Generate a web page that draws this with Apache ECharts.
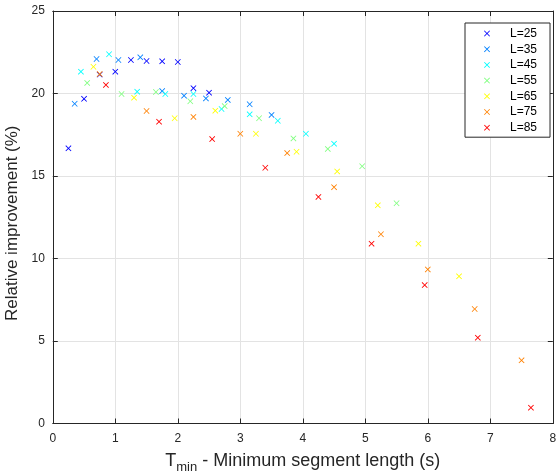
<!DOCTYPE html>
<html>
<head>
<meta charset="utf-8">
<script src="https://cdn.jsdelivr.net/npm/echarts@6/dist/echarts.min.js"></script>
<style>
html,body{margin:0;padding:0;background:#fff;}
#chart{width:557px;height:472px;}
</style>
</head>
<body>
<div id="chart"></div>
<script>
// Series names
const seriesNames = ['L=25','L=35','L=45','L=55','L=65','L=75','L=85'];
// T_min values (s) per series
const x25 = [0.25,0.50,0.75,1.00,1.25,1.50,1.75,2.00,2.25,2.50];
const x35 = [0.35,0.70,1.05,1.40,1.75,2.10,2.45,2.80,3.15,3.50];
const x45 = [0.45,0.90,1.35,1.80,2.25,2.70,3.15,3.60,4.05,4.50];
const x55 = [0.55,1.10,1.65,2.20,2.75,3.30,3.85,4.40,4.95,5.50];
const x65 = [0.65,1.30,1.95,2.60,3.25,3.90,4.55,5.20,5.85,6.50];
const x75 = [0.75,1.50,2.25,3.00,3.75,4.50,5.25,6.00,6.75,7.50];
const x85 = [0.85,1.70,2.55,3.40,4.25,5.10,5.95,6.80,7.65];
// Relative improvement (%) per series
const y25 = [16.68,19.68,21.15,21.32,22.03,21.97,21.95,21.91,20.32,20.05];
const y35 = [19.38,22.09,22.03,22.19,20.15,19.87,19.70,19.61,19.35,18.70];
const y45 = [21.32,22.38,20.11,19.97,19.97,19.06,18.74,18.35,17.56,16.96];
const y55 = [20.64,19.97,20.09,19.53,19.24,18.50,17.28,16.64,15.59,13.35];
const y65 = [21.62,19.75,18.50,18.96,17.56,16.47,15.28,13.22,10.90,8.92];
const y75 = [21.18,18.94,18.58,17.56,16.39,14.32,11.47,9.34,6.94,3.83];
const y85 = [20.52,18.29,17.24,15.50,13.73,10.90,8.39,5.20,0.96];
// Axis ticks
const xTicks = [0,1,2,3,4,5,6,7,8];
const yTicks = [0,5,10,15,20,25];

const xsAll = [x25,x35,x45,x55,x65,x75,x85];
const ysAll = [y25,y35,y45,y55,y65,y75,y85];
const colors = ['#0000ff','#0080ff','#00ffff','#80ff80','#ffff00','#ff8000','#ff0000'];
const crossPath = 'path://M0,1L1,0L5,4L9,0L10,1L6,5L10,9L9,10L5,6L1,10L0,9L4,5Z';
const FONT = '"Liberation Sans", Arial, Helvetica, sans-serif';
const axisCol = '#262626';

const series = seriesNames.map((name, i) => ({
  name: name,
  type: 'scatter',
  symbol: crossPath,
  symbolSize: 6,
  itemStyle: { color: colors[i], opacity: 1 },
  data: xsAll[i].map((x, j) => [x, ysAll[i][j]]),
  silent: true,
  animation: false
}));

const chart = echarts.init(document.getElementById('chart'), null, {renderer: 'canvas'});
chart.setOption({
  animation: false,
  backgroundColor: '#fff',
  textStyle: { fontFamily: FONT },
  grid: { left: 52.8, right: 4.2, top: 11, bottom: 48.5, containLabel: false, outerBoundsMode: 'none' },
  xAxis: [{
    type: 'value', min: xTicks[0], max: xTicks[xTicks.length-1], interval: 1,
    position: 'bottom',
    axisLine: { show: true, onZero: false, lineStyle: { color: axisCol, width: 1 } },
    axisTick: { show: true, inside: true, length: 5, lineStyle: { color: axisCol } },
    axisLabel: { fontSize: 12, color: axisCol, margin: 9, fontFamily: FONT },
    splitLine: { show: true, lineStyle: { color: '#e3e3e3', width: 1 } },
    name: '{t|T}{s|min}{t| - Minimum segment length (s)}',
    nameLocation: 'middle', nameGap: 26,
    nameTextStyle: {
      fontFamily: FONT,
      rich: {
        t: { fontSize: 18, color: axisCol, fontFamily: FONT, lineHeight: 24, verticalAlign: 'middle' },
        s: { fontSize: 13, color: axisCol, fontFamily: FONT, lineHeight: 24, verticalAlign: 'bottom', padding: [10,0,0,0] }
      }
    }
  }, {
    type: 'value', min: xTicks[0], max: xTicks[xTicks.length-1], interval: 1,
    position: 'top',
    axisLine: { show: true, onZero: false, lineStyle: { color: axisCol, width: 1 } },
    axisTick: { show: true, inside: true, length: 5, lineStyle: { color: axisCol } },
    axisLabel: { show: false },
    splitLine: { show: false }
  }],
  yAxis: [{
    type: 'value', min: yTicks[0], max: yTicks[yTicks.length-1], interval: 5,
    position: 'left',
    axisLine: { show: true, onZero: false, lineStyle: { color: axisCol, width: 1 } },
    axisTick: { show: true, inside: true, length: 5, lineStyle: { color: axisCol } },
    axisLabel: { fontSize: 12, color: axisCol, margin: 8, fontFamily: FONT },
    splitLine: { show: true, lineStyle: { color: '#e3e3e3', width: 1 } },
    name: 'Relative improvement (%)',
    nameLocation: 'middle', nameGap: 26,
    nameTextStyle: { fontSize: 17, color: axisCol, fontFamily: FONT, padding: [0, 12, 0, 0] }
  }, {
    type: 'value', min: yTicks[0], max: yTicks[yTicks.length-1], interval: 5,
    position: 'right',
    axisLine: { show: true, onZero: false, lineStyle: { color: axisCol, width: 1 } },
    axisTick: { show: true, inside: true, length: 5, lineStyle: { color: axisCol } },
    axisLabel: { show: false },
    splitLine: { show: false }
  }],
  legend: {
    orient: 'vertical',
    left: 465, top: 23,
    padding: [4, 13, 3, 19],
    itemWidth: 6, itemHeight: 6, itemGap: 2.7,
    borderColor: axisCol, borderWidth: 1, backgroundColor: '#fff',
    data: seriesNames.map(n => ({ name: n, icon: crossPath })),
    formatter: n => '{a|' + n + '}',
    textStyle: {
      fontSize: 12, color: '#000', fontFamily: FONT, lineHeight: 13,
      rich: { a: { fontSize: 12, color: '#000', fontFamily: FONT, lineHeight: 13, padding: [0,0,0,15] } }
    }
  },
  series: series
});
</script>
</body>
</html>
